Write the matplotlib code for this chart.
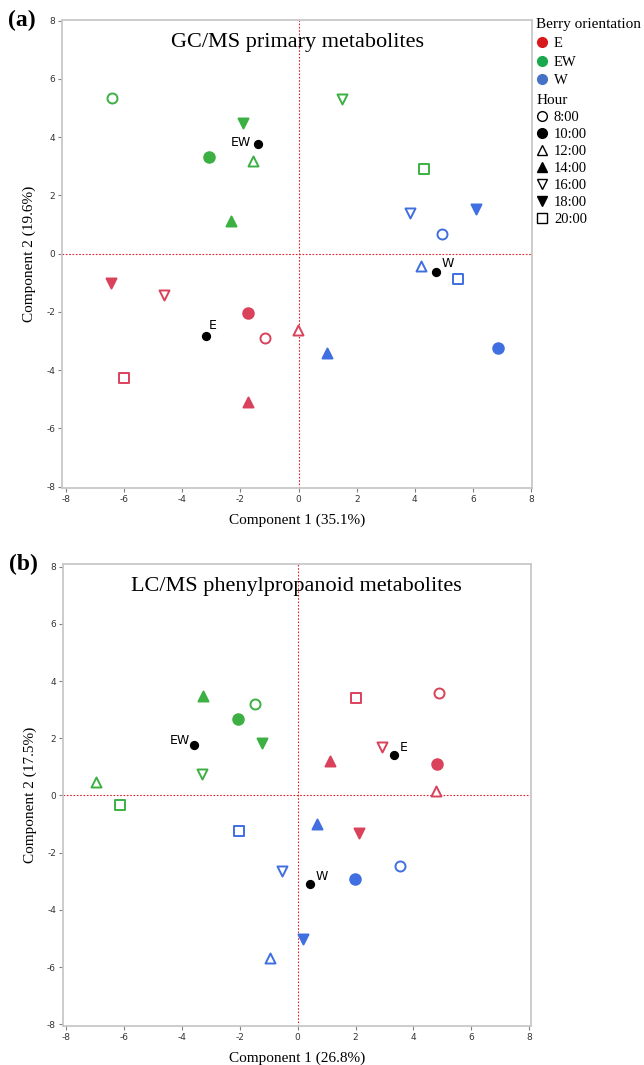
import matplotlib

matplotlib.use("Agg", force=True)
matplotlib.rcParams["axes.unicode_minus"] = False
from matplotlib import pyplot as plt
from matplotlib.lines import Line2D

GROUPS = ["E", "EW", "W"]
HOURS = ["8:00", "10:00", "12:00", "14:00", "16:00", "18:00", "20:00"]

# panel (a) GC/MS scores, one list per orientation, ordered by hour
a_x = {
    "E": [-1.17, -1.75, -0.02, -1.75, -4.63, -6.46, -6.02],
    "EW": [-6.43, -3.07, -1.57, -2.31, 1.50, -1.93, 4.31],
    "W": [4.93, 6.86, 4.22, 0.99, 3.84, 6.09, 5.50],
}
a_y = {
    "E": [-2.91, -2.03, -2.64, -5.11, -1.42, -1.00, -4.28],
    "EW": [5.33, 3.33, 3.18, 1.13, 5.32, 4.50, 2.90],
    "W": [0.67, -3.24, -0.41, -3.42, 1.39, 1.53, -0.89],
}
a_cx = {"E": -3.19, "EW": -1.40, "W": 4.74}
a_cy = {"E": -2.84, "EW": 3.76, "W": -0.64}

# panel (b) LC/MS scores
b_x = {
    "E": [4.88, 4.80, 4.79, 1.11, 2.92, 2.12, 2.03],
    "EW": [-1.49, -2.06, -6.97, -3.27, -3.32, -1.23, -6.15],
    "W": [3.54, 1.99, -0.97, 0.66, -0.54, 0.18, -2.04],
}
b_y = {
    "E": [3.58, 1.09, 0.14, 1.22, 1.69, -1.31, 3.40],
    "EW": [3.19, 2.67, 0.47, 3.47, 0.76, 1.85, -0.35],
    "W": [-2.48, -2.93, -5.70, -1.00, -2.65, -5.03, -1.26],
}
b_cx = {"E": 3.33, "EW": -3.58, "W": 0.43}
b_cy = {"E": 1.43, "EW": 1.76, "W": -3.08}

COLORS = {"E": "#d9425a", "EW": "#3cb043", "W": "#3f6fe0"}
LEGEND_COLORS = {"E": "#d7191c", "EW": "#1aa84c", "W": "#4472c4"}
MARKERS = ["o", "o", "^", "^", "v", "v", "s"]
FILLED = [False, True, False, True, False, True, False]
SIZES = [52, 58, 52, 52, 52, 52, 48]
TICKS = [-8, -6, -4, -2, 0, 2, 4, 6, 8]

SERIF = "Liberation Serif"


def draw_panel(ax, xs, ys, cx, cy, label_offsets, title, title_y, xlabel, ylabel, letter, xlim, ylim):
    ax.axhline(0, color="#e0202a", lw=0.8, ls=(0, (1.5, 1.5)), zorder=1)
    ax.axvline(0, color="#e0202a", lw=0.8, ls=(0, (1.5, 1.5)), zorder=1)
    for g in GROUPS:
        for i in range(len(HOURS)):
            c = COLORS[g]
            ax.scatter(
                xs[g][i], ys[g][i], marker=MARKERS[i], s=SIZES[i],
                facecolors=c if FILLED[i] else "white", edgecolors=c,
                linewidths=1.4, zorder=3,
            )
        ax.scatter(cx[g], cy[g], s=32, color="black", zorder=4)
        dx, dy, ha = label_offsets[g]
        ax.annotate(g, (cx[g], cy[g]), xytext=(dx, dy), textcoords="offset points",
                    ha=ha, va="center", fontsize=9, family="DejaVu Sans")

    ax.set_xlim(*xlim)
    ax.set_ylim(*ylim)
    ax.set_xticks(TICKS)
    ax.set_yticks(TICKS)
    ax.tick_params(labelsize=6.5, length=3, width=0.8, color="#808080", labelcolor="#333333", pad=2)
    for side in ("top", "right", "bottom", "left"):
        ax.spines[side].set_color("#c8c8c8")
        ax.spines[side].set_linewidth(1.3)
    ax.set_xlabel(xlabel, family=SERIF, fontsize=11, labelpad=7)
    ax.set_ylabel(ylabel, family=SERIF, fontsize=11, labelpad=7)
    ax.text(0.5, title_y, title, transform=ax.transAxes, ha="center", va="center",
            family=SERIF, fontsize=16)
    ax.text(-0.115, 1.0, letter, transform=ax.transAxes, ha="left", va="center",
            family=SERIF, fontsize=17, fontweight="bold")


fig = plt.figure(figsize=(6.44, 10.65), dpi=100)
ax_a = fig.add_axes([0.0963, 0.5418, 0.7298, 0.4394])
ax_b = fig.add_axes([0.0978, 0.0369, 0.7262, 0.4332])

draw_panel(
    ax_a, a_x, a_y, a_cx, a_cy,
    {"E": (2, 8, "left"), "EW": (-5, 1, "right"), "W": (4, 6, "left")},
    "GC/MS primary metabolites", 0.952, "Component 1 (35.1%)", "Component 2 (19.6%)", "(a)",
    (-8.14, 8.03), (-8.05, 8.02),
)
draw_panel(
    ax_b, b_x, b_y, b_cx, b_cy,
    {"E": (4, 5, "left"), "EW": (-3, 3, "right"), "W": (4, 5, "left")},
    "LC/MS phenylpropanoid metabolites", 0.951, "Component 1 (26.8%)", "Component 2 (17.5%)", "(b)",
    (-8.11, 8.05), (-8.05, 8.08),
)

group_handles = [
    Line2D([], [], ls="none", marker="o", markersize=7, color=LEGEND_COLORS[g], label=g)
    for g in GROUPS
]
hour_handles = [
    Line2D([], [], ls="none", marker=MARKERS[i], markersize=7,
           markerfacecolor="black" if FILLED[i] else "white",
           markeredgecolor="black", markeredgewidth=1.0, label=h)
    for i, h in enumerate(HOURS)
]
legend_kw = dict(frameon=False, prop={"family": SERIF, "size": 10.5},
                 title_fontproperties={"family": SERIF, "size": 11},
                 handlelength=0.8, handletextpad=0.4,
                 borderpad=0, borderaxespad=0, alignment="left")
fig.legend(handles=group_handles, title="Berry orientation", loc="upper left",
           bbox_to_anchor=(0.833, 0.983), labelspacing=0.38, **legend_kw)
fig.legend(handles=hour_handles, title="Hour", loc="upper left",
           bbox_to_anchor=(0.833, 0.912), labelspacing=0.26, **legend_kw)

fig.savefig("out.png", dpi=100)
